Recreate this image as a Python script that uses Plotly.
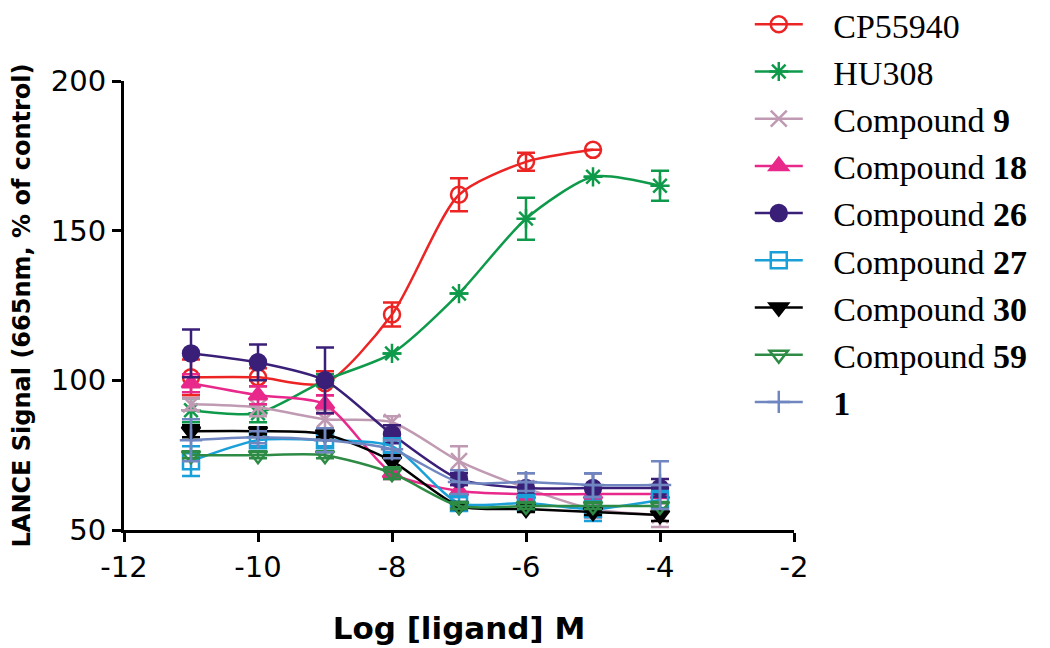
import plotly.graph_objects as go

log_conc = [-11, -10, -9, -8, -7, -6, -5, -4]
x_tick_vals = [-12, -10, -8, -6, -4, -2]
x_tick_text = ["-12", "-10", "-8", "-6", "-4", "-2"]

names = ["CP55940", "HU308", "Compound <b>9</b>", "Compound <b>18</b>", "Compound <b>26</b>",
         "Compound <b>27</b>", "Compound <b>30</b>", "Compound <b>59</b>", "<b>1</b>"]

cp55940 = [101, 101, 99, 122, 162, 173, 177]
cp55940_err = [6, 3, 4, 4, 5.5, 3, 0]
hu308 = [90, 89, 100, 109, 129, 154, 168, 165]
hu308_err = [4, 3, 2, 0, 0, 7, 0, 5]
c9 = [92, 91, 87, 86, 73, 64, 57, 55]
c9_err = [2, 3, 3, 2, 5, 5, 3, 4]
c18 = [99, 95, 92, 69, 63, 62, 62, 62]
c18_err = [3, 3, 3, 2, 2, 2, 2, 3]
c26 = [109, 106, 100, 82, 67, 64, 64, 64]
c26_err = [8, 6, 11, 3, 2, 2, 5, 3]
c27 = [73, 80, 80, 78, 59, 59, 57, 60]
c27_err = [5, 2, 2, 2, 2, 2, 4, 3]
c30 = [83, 83, 82, 73, 58, 57, 56, 55]
c30_err = [2, 1, 1, 2, 1, 1, 1, 2]
c59 = [75, 75, 75, 69, 58, 58, 58, 58]
c59_err = [1, 1, 1, 2, 1, 1, 1, 1]
c1 = [80, 81, 80, 77, 66, 66, 65, 65]
c1_err = [7, 2, 4, 3, 4, 3, 4, 8]

series = [cp55940, hu308, c9, c18, c26, c27, c30, c59, c1]
errors = [cp55940_err, hu308_err, c9_err, c18_err, c26_err, c27_err, c30_err, c59_err, c1_err]
colors = ["#ec2424", "#0e9a4a", "#c09ab2", "#e8288a", "#3a1f78", "#1aa0d8", "#000000", "#2e8b45", "#6f86c0"]
symbols = ["circle-open", "asterisk-open", "x-thin-open", "triangle-up", "circle",
           "square-open", "triangle-down", "triangle-down-open", "cross-thin-open"]

pad = "\u00a0\u00a0\u00a0"

fig = go.Figure()
for name, ys, errs, col, sym in zip(names, series, errors, colors, symbols):
    xs = log_conc[:len(ys)]
    fig.add_trace(go.Scatter(
        x=xs, y=ys, name=pad + name, mode="lines+markers",
        line=dict(color=col, width=2.5, shape="spline", smoothing=0.7),
        marker=dict(symbol=sym, size=16, color=col, line=dict(color=col, width=2.5)),
        error_y=dict(type="data", array=errs, visible=True, color=col, thickness=2.5, width=9),
    ))

axis_common = dict(showline=True, linecolor="black", linewidth=3, ticks="outside",
                   ticklen=9, tickwidth=3, tickcolor="black", showgrid=False, zeroline=False,
                   tickfont=dict(family="DejaVu Sans", size=29, color="black"))

fig.update_layout(
    width=1050, height=648,
    margin=dict(l=116, r=264, t=73, b=126, autoexpand=False),
    paper_bgcolor="white", plot_bgcolor="white",
    xaxis=dict(range=[-12, -2], tickvals=x_tick_vals, ticktext=x_tick_text,
               title=dict(text="<b>Log [ligand] M</b>", font=dict(family="DejaVu Sans", size=31, color="black"),
                          standoff=35),
               **axis_common),
    yaxis=dict(range=[50, 200], dtick=50, tick0=50,
               title=dict(text="<b>LANCE Signal (665nm, % of control)</b>",
                          font=dict(family="DejaVu Sans", size=24, color="black"), standoff=21),
               **axis_common),
    legend=dict(x=0.934, y=1.19, xanchor="left", yanchor="top",
                font=dict(family="Liberation Serif", size=34, color="black"),
                itemwidth=48, bgcolor="rgba(0,0,0,0)", maxheight=1.0),
    showlegend=True,
)

fig.write_html("out.html")
